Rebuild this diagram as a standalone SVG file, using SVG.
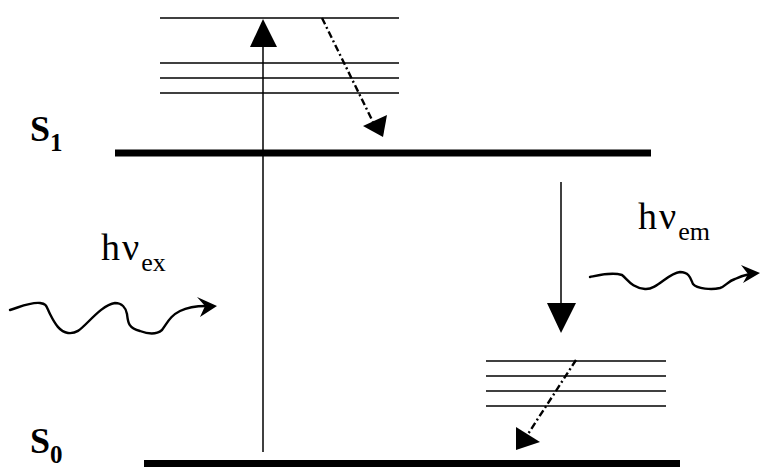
<svg xmlns="http://www.w3.org/2000/svg" width="760" height="467" viewBox="0 0 760 467">
<defs>
<style>
.lvl{stroke:#000;stroke-width:1.5;fill:none}
.thick{stroke:#000;stroke-width:7;fill:none}
.arr{stroke:#000;stroke-width:1.5;fill:none}
.dd{stroke:#000;stroke-width:2.4;fill:none;stroke-dasharray:7,3,2,3}
.wave{stroke:#000;stroke-width:2.4;fill:none;stroke-linejoin:round;stroke-linecap:round}
.head{fill:#000}
.lab{font-family:"Liberation Serif","Times New Roman",serif;fill:#000}
</style>
</defs>
<rect width="760" height="467" fill="#fff"/>
<g id="S1-levels">
<line class="lvl" x1="160" y1="18" x2="399" y2="18"/>
<line class="lvl" x1="160" y1="63" x2="399" y2="63"/>
<line class="lvl" x1="160" y1="78" x2="399" y2="78"/>
<line class="lvl" x1="160" y1="93" x2="399" y2="93"/>
</g>
<g id="S1">
<line class="thick" x1="115" y1="153" x2="651" y2="153"/>
<text class="lab" x="30" y="141" font-size="36" font-weight="bold">S<tspan font-size="25" dy="10">1</tspan></text>
</g>
<g id="S0-levels">
<line class="lvl" x1="486" y1="361" x2="666" y2="361"/>
<line class="lvl" x1="486" y1="376" x2="666" y2="376"/>
<line class="lvl" x1="486" y1="391" x2="666" y2="391"/>
<line class="lvl" x1="486" y1="406" x2="666" y2="406"/>
</g>
<g id="S0">
<line class="thick" x1="144" y1="463.5" x2="680" y2="463.5"/>
<text class="lab" x="30" y="453" font-size="36" font-weight="bold">S<tspan font-size="25" dy="10">0</tspan></text>
</g>
<g id="hv-ex">
<text class="lab" x="101" y="260" font-size="38">h<tspan dx="2">ν</tspan><tspan font-size="26" dy="11" dx="2">ex</tspan></text>
</g>
<g id="hv-em">
<text class="lab" x="638" y="229" font-size="38">h<tspan dx="2">ν</tspan><tspan font-size="26" dy="11" dx="2">em</tspan></text>
</g>
<g id="connectors">
<line class="arr" x1="263" y1="452" x2="263" y2="44"/>
<polygon class="head" points="263,19 250,47 277,47"/>
<line class="dd" x1="322" y1="18" x2="373" y2="122"/>
<polygon class="head" points="383,137 363,126 387,115"/>
<line class="arr" x1="561" y1="182" x2="561" y2="306"/>
<polygon class="head" points="561,333 547,303 576,303"/>
<line class="dd" x1="576" y1="360" x2="528" y2="434"/>
<polygon class="head" points="516,450 516,427 540,442"/>
<path class="wave" d="M10,310 C20,307 30,302 40,303 C47,304 46,306 50,314 C55,324 60,332 68,333 C76,334 80,330 88,322 C96,314 106,304 115,303 C122,303 126,308 127,314 C128,322 128,328 140,331 C148,334 156,335 162,330 C168,322 170,316 180,311 C188,307 196,306 206,306"/>
<polygon class="head" points="217,306 197,297 205,306 200,317"/>
<path class="wave" d="M590,277 C600,275 612,272 622,275 C628,280 632,288 645,289 C657,290 668,273 680,272 C690,272 691,280 693,284 C697,289 712,290 720,288 C726,286 728,281 735,279 C741,276 745,275 750,274"/>
<polygon class="head" points="760,273 741,265 748,274 743,283"/>
</g>
</svg>
